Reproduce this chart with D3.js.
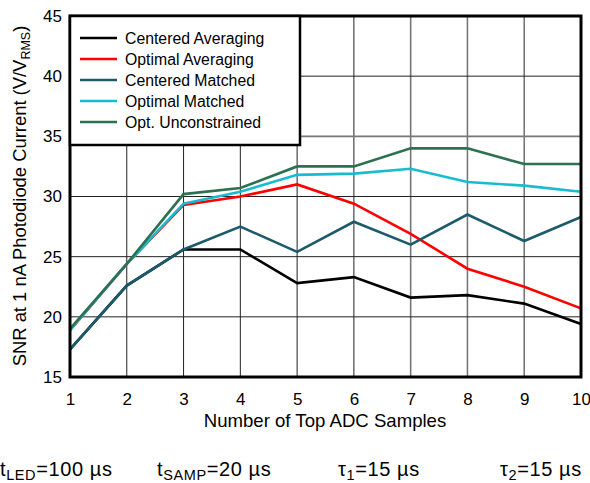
<!DOCTYPE html>
<html>
<head>
<meta charset="utf-8">
<script src="https://cdn.jsdelivr.net/npm/d3@7"></script>
<style>
  html, body { margin: 0; padding: 0; background: #fff; }
  svg { display: block; font-family: "Liberation Sans", Arial, sans-serif; }
</style>
</head>
<body>
<svg id="chart" width="590" height="483"></svg>
<script>
// Number of top ADC samples
const samples = [1, 2, 3, 4, 5, 6, 7, 8, 9, 10];

// SNR (V/V_RMS) for each processing scheme
const centeredAveraging = [17.3, 22.6, 25.6, 25.6, 22.8, 23.3, 21.6, 21.8, 21.1, 19.4];
const optimalAveraging  = [18.9, 24.4, 29.3, 30.0, 31.0, 29.4, 26.9, 24.0, 22.5, 20.7];
const centeredMatched   = [17.3, 22.6, 25.6, 27.5, 25.4, 27.9, 26.0, 28.5, 26.3, 28.3];
const optimalMatched    = [18.9, 24.4, 29.4, 30.4, 31.8, 31.9, 32.3, 31.2, 30.9, 30.4];
const optUnconstrained  = [19.0, 24.4, 30.2, 30.7, 32.5, 32.5, 34.0, 34.0, 32.7, 32.7];

const seriesNames  = ["Centered Averaging", "Optimal Averaging", "Centered Matched", "Optimal Matched", "Opt. Unconstrained"];
const seriesColors = ["#000000", "#ff0000", "#1b5b6b", "#17bcd3", "#2c7150"];
const seriesValues = [centeredAveraging, optimalAveraging, centeredMatched, optimalMatched, optUnconstrained];

const yTicks = [15, 20, 25, 30, 35, 40, 45];
const xTicks = samples;

const svg = d3.select("#chart");
const m = { left: 70, right: 581, top: 16, bottom: 377 };

const x = d3.scaleLinear().domain([1, 10]).range([m.left, m.right]);
const y = d3.scaleLinear().domain([15, 45]).range([m.bottom, m.top]);

// Grid
const grid = svg.append("g");
grid.selectAll("line.gx").data(xTicks.slice(1, -1)).join("line")
  .attr("x1", d => x(d)).attr("x2", d => x(d))
  .attr("y1", m.top).attr("y2", m.bottom)
  .attr("stroke", d => d >= 7 ? "#777" : "#222")
  .attr("stroke-width", d => d >= 7 ? 1.6 : 1);
grid.selectAll("line.gy").data(yTicks.slice(1, -1)).join("line")
  .attr("x1", m.left).attr("x2", m.right)
  .attr("y1", d => y(d)).attr("y2", d => y(d))
  .attr("stroke", d => d === 35 ? "#777" : "#222")
  .attr("stroke-width", d => d === 35 ? 1.6 : 1);

// Series lines
const line = d3.line().x((d, i) => x(samples[i])).y(d => y(d));
svg.append("g").selectAll("path").data(seriesValues).join("path")
  .attr("d", line)
  .attr("fill", "none")
  .attr("stroke", (d, i) => seriesColors[i])
  .attr("stroke-width", 2.6)
  .attr("stroke-linejoin", "miter");

// Plot frame
svg.append("rect")
  .attr("x", m.left).attr("y", m.top)
  .attr("width", m.right - m.left).attr("height", m.bottom - m.top)
  .attr("fill", "none").attr("stroke", "#000").attr("stroke-width", 3);

// Axes tick labels
const xAxis = d3.axisBottom(x).tickValues(xTicks).tickSize(0).tickPadding(16).tickFormat(d3.format("d"));
const gx = svg.append("g").attr("transform", `translate(0,${m.bottom})`).call(xAxis);
gx.select(".domain").remove();
gx.selectAll("text").attr("font-size", 17).attr("font-family", "Liberation Sans, Arial, sans-serif").attr("fill", "#000");

const yAxis = d3.axisLeft(y).tickValues(yTicks).tickSize(0).tickPadding(8).tickFormat(d3.format("d"));
const gy = svg.append("g").attr("transform", `translate(${m.left},0)`).call(yAxis);
gy.select(".domain").remove();
gy.selectAll("text").attr("font-size", 17).attr("font-family", "Liberation Sans, Arial, sans-serif").attr("fill", "#000");

// Axis titles
svg.append("text")
  .attr("x", 325).attr("y", 427)
  .attr("text-anchor", "middle").attr("font-size", 18.6)
  .text("Number of Top ADC Samples");

const yt = svg.append("text")
  .attr("transform", `translate(26,196) rotate(-90)`)
  .attr("text-anchor", "middle").attr("font-size", 18.4);
yt.append("tspan").text("SNR at 1 nA Photodiode Current (V/V");
yt.append("tspan").attr("font-size", 12.5).attr("dy", 4).text("RMS");
yt.append("tspan").attr("dy", -4).text(")");

// Legend
const lg = svg.append("g");
lg.append("rect")
  .attr("x", m.left).attr("y", m.top)
  .attr("width", 230).attr("height", 129)
  .attr("fill", "#fff").attr("stroke", "#000").attr("stroke-width", 2.5);
seriesNames.forEach((name, i) => {
  const yy = 38 + i * 21;
  lg.append("line")
    .attr("x1", 80).attr("x2", 117).attr("y1", yy).attr("y2", yy)
    .attr("stroke", seriesColors[i]).attr("stroke-width", 2.6);
  lg.append("text")
    .attr("x", 125).attr("y", yy).attr("dy", "0.35em")
    .attr("font-size", 15.8).text(name);
});

// Timing parameters
const notes = [
  { x: 0,   main: "t", sub: "LED",  rest: "=100 µs" },
  { x: 157, main: "t", sub: "SAMP", rest: "=20 µs" },
  { x: 338, main: "τ", sub: "1",    rest: "=15 µs" },
  { x: 500, main: "τ", sub: "2",    rest: "=15 µs" }
];
notes.forEach(n => {
  const t = svg.append("text").attr("x", n.x).attr("y", 476)
    .attr("font-size", 20).attr("letter-spacing", 0.6);
  t.append("tspan").text(n.main);
  t.append("tspan").attr("font-size", 14.5).attr("dy", 3.5).text(n.sub);
  t.append("tspan").attr("dy", -3.5).text(n.rest);
});
</script>
</body>
</html>
